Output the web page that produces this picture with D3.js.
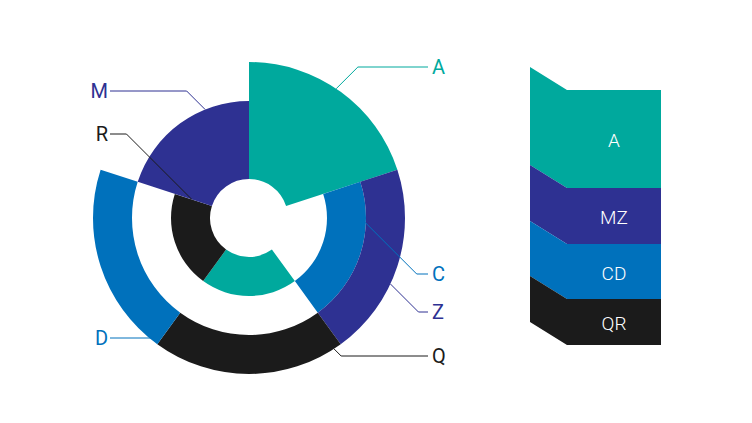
<!DOCTYPE html>
<html>
<head>
<meta charset="utf-8">
<script src="https://cdn.jsdelivr.net/npm/d3@7"></script>
<style>
  body { margin: 0; background: #fff; }
  svg { display: block; font-family: Roboto, "Noto Sans", sans-serif; }
</style>
</head>
<body>
<svg width="752" height="423"></svg>
<script>
// radial segments: sector index (5 equal sectors), ring levels from/to, colour group
var segNames  = ['A', 'C', 'Z', 'a2', 'Q', 'R', 'D', 'M'];
var segSector = [0, 1, 1, 2, 2, 3, 3, 4];
var segFrom   = [0, 1, 2, 0, 2, 0, 2, 0];
var segTo     = [3, 2, 3, 1, 3, 1, 3, 2];
var segGroup  = ['A', 'CD', 'MZ', 'A', 'QR', 'QR', 'CD', 'MZ'];

// callout labels: anchor angle (deg) and ring level on the chart
var labelNames = ['A', 'M', 'R', 'C', 'Z', 'Q', 'D'];
var labelAngle = [34, 338, 288, 92, 115, 147, 216];
var labelLevel = [3, 2, 0.54, 1.97, 3, 3, 2.95];
var labelGroup = ['A', 'MZ', 'QR', 'CD', 'MZ', 'QR', 'CD'];
var labelY     = [67, 91, 134, 274, 312, 356, 338];

// stacked bar on the right
var stackCats   = ['A', 'MZ', 'CD', 'QR'];
var stackValues = [98, 56, 55, 46];

var colors = { A: '#00a99d', MZ: '#2e3192', CD: '#0071bc', QR: '#1b1b1b' };

var svg = d3.select('svg');
var cx = 249, cy = 218;

// scales
var sectorScale = d3.scaleBand()
    .domain(d3.range(5))
    .range([0, 2 * Math.PI]);
var rScale = d3.scaleLinear()
    .domain([0, 3]).range([39, 156]);

var arc = d3.arc()
    .innerRadius(function(d) { return rScale(d.from); })
    .outerRadius(function(d) { return rScale(d.to); })
    .startAngle(function(d) { return sectorScale(d.sector); })
    .endAngle(function(d) { return sectorScale(d.sector) + sectorScale.bandwidth(); });

var segs = segNames.map(function(n, i) {
    return { name: n, sector: segSector[i], from: segFrom[i], to: segTo[i], group: segGroup[i] };
});

var chartG = svg.append('g')
    .attr('transform', 'translate(' + cx + ',' + cy + ')');

chartG.selectAll('path.seg')
    .data(segs)
    .enter()
    .append('path')
    .attr('class', 'seg')
    .attr('d', arc)
    .style('fill', function(d) { return colors[d.group]; });

// callouts
var labels = labelNames.map(function(n, i) {
    var p = d3.pointRadial(labelAngle[i] * Math.PI / 180, rScale(labelLevel[i]));
    return { name: n, x: cx + p[0], y: cy + p[1], ly: labelY[i], group: labelGroup[i] };
});

var calloutG = svg.append('g');
labels.forEach(function(d) {
    var right = d.x > cx;
    var dir = right ? 1 : -1;
    var ex = d.x + dir * Math.abs(d.ly - d.y);
    var endX = right ? 428 : 110;
    calloutG.append('polyline')
        .attr('points', [[d.x, d.y], [ex, d.ly], [endX, d.ly]].join(' '))
        .style('fill', 'none')
        .style('stroke', colors[d.group])
        .style('stroke-width', 1);
    calloutG.append('text')
        .attr('x', right ? 432 : 108)
        .attr('y', d.ly)
        .attr('dy', '0.36em')
        .attr('text-anchor', right ? 'start' : 'end')
        .style('font-size', '20px')
        .style('fill', colors[d.group])
        .text(d.name);
});

// stacked folded bar
var total = d3.sum(stackValues);
var yScale = d3.scaleLinear().domain([0, total]).range([90, 345]);
var barLeft = 530, barFold = 567, barRight = 661, slant = 23;

var stack = [];
var acc = 0;
stackCats.forEach(function(c, i) {
    stack.push({ name: c, y0: acc, y1: acc + stackValues[i] });
    acc += stackValues[i];
});

var barG = svg.append('g');
barG.selectAll('path')
    .data(stack)
    .enter()
    .append('path')
    .attr('d', function(d) {
        var t = yScale(d.y0), b = yScale(d.y1);
        return 'M' + barLeft + ',' + (t - slant) +
            'L' + barFold + ',' + t +
            'L' + barRight + ',' + t +
            'L' + barRight + ',' + b +
            'L' + barFold + ',' + b +
            'L' + barLeft + ',' + (b - slant) + 'Z';
    })
    .style('fill', function(d) { return colors[d.name]; });

barG.selectAll('text')
    .data(stack)
    .enter()
    .append('text')
    .attr('x', (barFold + barRight) / 2)
    .attr('y', function(d) { return (yScale(d.y0) + yScale(d.y1)) / 2 + 1.5; })
    .attr('dy', '0.36em')
    .attr('text-anchor', 'middle')
    .style('font-size', '19px')
    .style('font-weight', 300)
    .style('fill', '#fff')
    .text(function(d) { return d.name; });
</script>
</body>
</html>
